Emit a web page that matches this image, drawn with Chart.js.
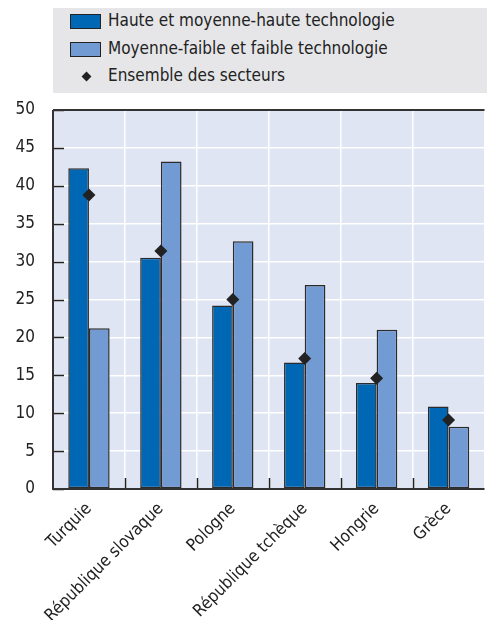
<!DOCTYPE html>
<html>
<head>
<meta charset="utf-8">
<script src="https://cdn.jsdelivr.net/npm/chart.js@4/dist/chart.umd.min.js"></script>
<style>
  html, body { margin: 0; padding: 0; overflow: hidden; background: #fff; width: 487px; height: 620px; }
  #wrap { position: absolute; left: 0; top: 0; width: 491px; height: 620px; }
  #legend { position: absolute; left: 53px; top: 8px; width: 440px; height: 85px; background: #e6e6e8;
    font-family: "Liberation Sans Narrow", "DejaVu Sans Condensed", sans-serif; font-size: 17px; color: #222; }
  .item { position: absolute; left: 17px; height: 20px; line-height: 20px; }
  .sw { position: absolute; left: 0; top: 3px; width: 29px; height: 13px; border: 1px solid #222; }
  .lbl { position: absolute; left: 38px; top: -1px; white-space: nowrap; }
  .dia { position: absolute; left: 13px; top: 7px; width: 7px; height: 7px; background: #222; transform: rotate(45deg); }
</style>
</head>
<body>
<div id="wrap">
  <canvas id="c" width="491" height="620"></canvas>
  <div id="legend">
    <div class="item" style="top:3px"><div class="sw" style="background:#0067b4"></div><div class="lbl">Haute et moyenne-haute technologie</div></div>
    <div class="item" style="top:31px"><div class="sw" style="background:#729bd3"></div><div class="lbl">Moyenne-faible et faible technologie</div></div>
    <div class="item" style="top:58px"><div class="dia"></div><div class="lbl">Ensemble des secteurs</div></div>
  </div>
</div>
<script>
const categories = ["Turquie", "République slovaque", "Pologne", "République tchèque", "Hongrie", "Grèce"];
const hauteTech = [42.3, 30.5, 24.2, 16.7, 14.0, 10.9];
const faibleTech = [21.2, 43.2, 32.7, 26.9, 21.0, 8.2];
const ensemble = [38.8, 31.4, 25.0, 17.2, 14.6, 9.1];
const yTicks = [0, 5, 10, 15, 20, 25, 30, 35, 40, 45, 50];

const FONT = "'Liberation Sans Narrow', 'DejaVu Sans Condensed', sans-serif";

const framePlugin = {
  id: 'frame',
  beforeDatasetsDraw(chart) {
    const ctx = chart.ctx, a = chart.chartArea;
    const y = chart.scales.y, x = chart.scales.x;
    ctx.save();
    ctx.strokeStyle = '#222';
    ctx.lineWidth = 1.5;
    yTicks.forEach(v => {
      const py = Math.round(y.getPixelForValue(v)) + 0.5;
      ctx.beginPath(); ctx.moveTo(a.left, py); ctx.lineTo(a.left + 11, py); ctx.stroke();
    });
    for (let i = 1; i < categories.length; i++) {
      const px = Math.round((x.getPixelForTick(i - 1) + x.getPixelForTick(i)) / 2) + 0.5;
      ctx.beginPath(); ctx.moveTo(px, a.bottom); ctx.lineTo(px, a.bottom - 11); ctx.stroke();
    }
    ctx.restore();
  },
  afterDraw(chart) {
    const ctx = chart.ctx, a = chart.chartArea;
    ctx.save();
    ctx.strokeStyle = '#333';
    ctx.lineWidth = 2;
    ctx.beginPath();
    ctx.moveTo(a.left, a.top); ctx.lineTo(a.right, a.top);
    ctx.moveTo(a.left, a.top); ctx.lineTo(a.left, a.bottom);
    ctx.lineTo(a.right, a.bottom);
    ctx.stroke();
    ctx.restore();
  }
};

const bgPlugin = {
  id: 'bg',
  beforeDraw(chart) {
    const ctx = chart.ctx, a = chart.chartArea;
    ctx.save();
    ctx.fillStyle = '#e0e5f4';
    ctx.fillRect(a.left, a.top, a.right - a.left, a.bottom - a.top);
    ctx.restore();
  }
};

new Chart(document.getElementById('c'), {
  data: {
    labels: categories,
    datasets: [
      { type: 'line', label: 'Ensemble des secteurs', data: ensemble, showLine: false,
        pointStyle: 'rectRot', pointRadius: 6.5, pointBackgroundColor: '#222', pointBorderColor: '#222',
        pointBorderWidth: 0, order: 0 },
      { type: 'bar', label: 'Haute et moyenne-haute technologie', data: hauteTech,
        backgroundColor: '#0067b4', borderColor: '#2b2b2b', borderWidth: 1.5, borderSkipped: false,
        barPercentage: 1, categoryPercentage: 0.575, order: 1 },
      { type: 'bar', label: 'Moyenne-faible et faible technologie', data: faibleTech,
        backgroundColor: '#729bd3', borderColor: '#2b2b2b', borderWidth: 1.5, borderSkipped: false,
        barPercentage: 1, categoryPercentage: 0.575, order: 1 }
    ]
  },
  options: {
    responsive: false,
    animation: false,
    devicePixelRatio: 1,
    layout: { padding: { top: 110, right: 0, left: 0, bottom: 0 } },
    plugins: { legend: { display: false }, tooltip: { enabled: false } },
    scales: {
      x: {
        offset: true,
        grid: { offset: true, color: '#ffffff', lineWidth: 1.5, drawTicks: false },
        border: { display: false },
        ticks: { autoSkip: false, maxRotation: 45, minRotation: 45, color: '#222', padding: 10,
          font: { family: FONT, size: 17 } },
        afterFit(s) { s.height = 131; }
      },
      y: {
        min: 0, max: 50,
        afterBuildTicks(s) { s.ticks = yTicks.map(v => ({ value: v })); },
        grid: { color: '#ffffff', lineWidth: 1.5, drawTicks: false },
        border: { display: false },
        ticks: { color: '#222', padding: 18, font: { family: FONT, size: 17 } },
        afterFit(s) { s.width = 53; }
      }
    }
  },
  plugins: [bgPlugin, framePlugin]
});
</script>
</body>
</html>
